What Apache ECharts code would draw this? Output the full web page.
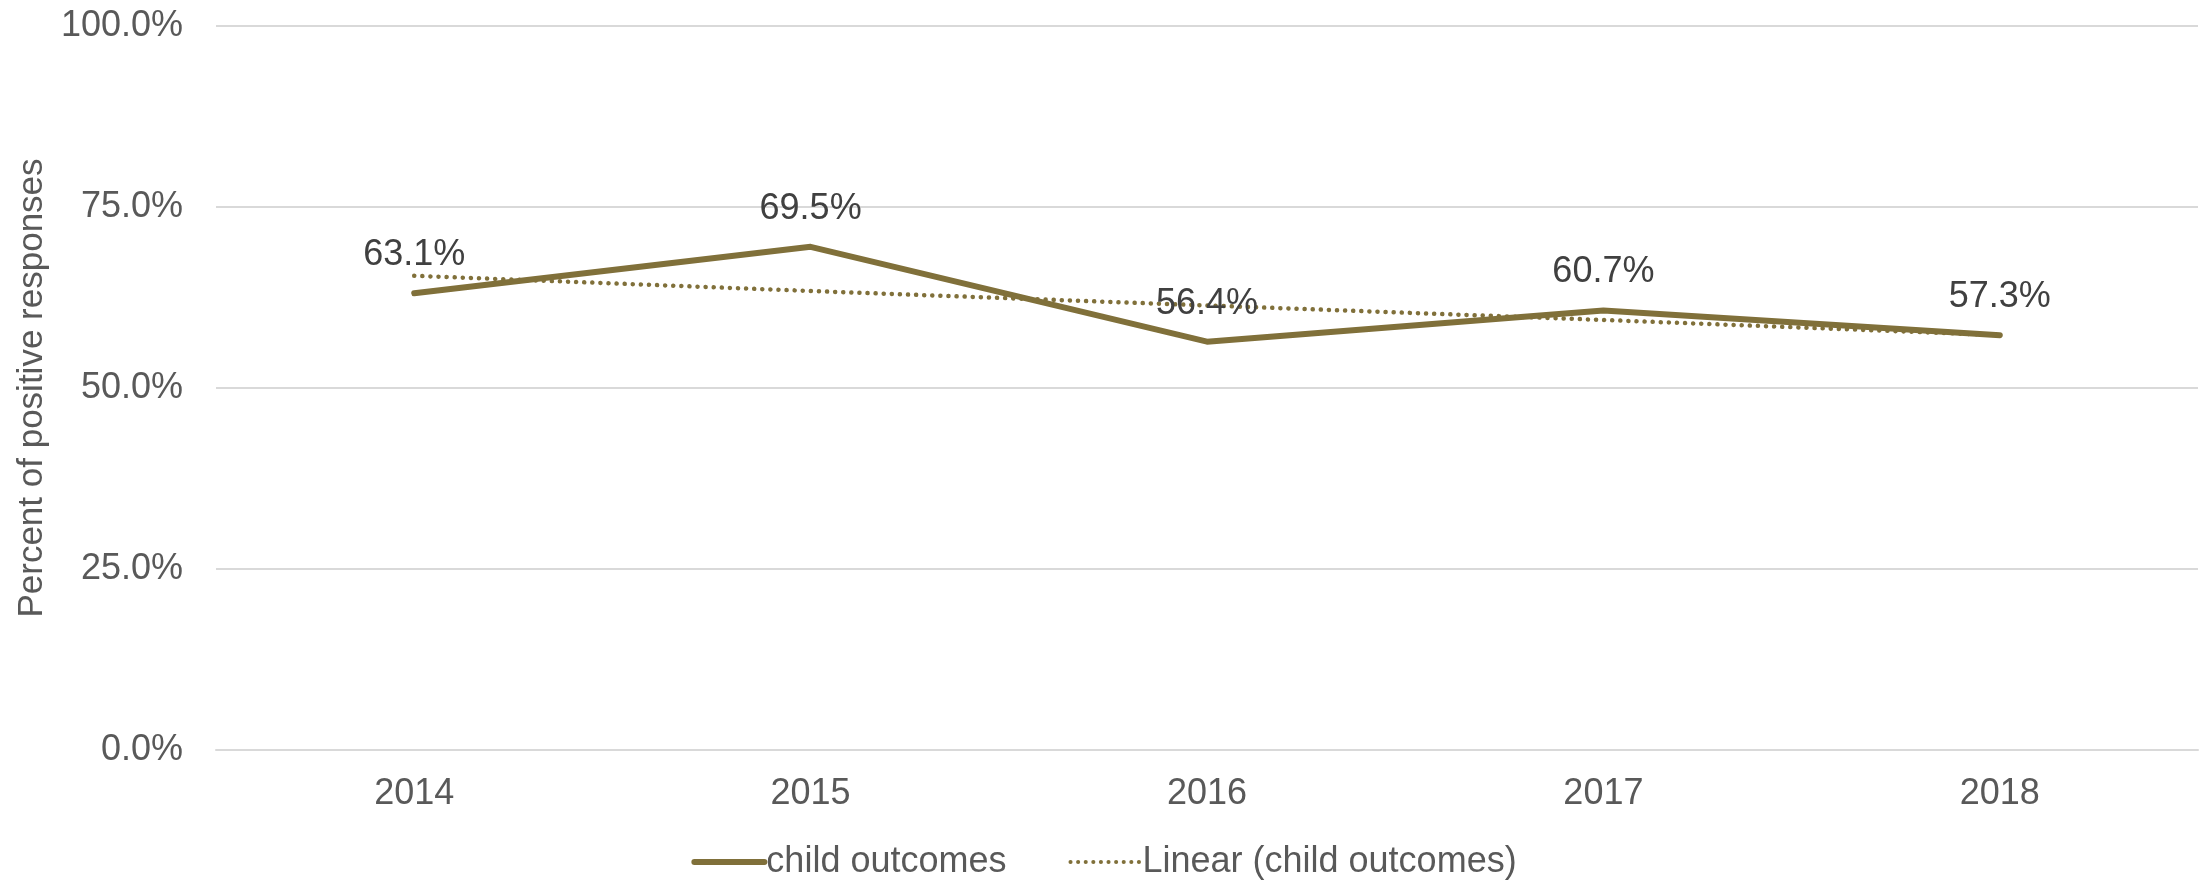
<!DOCTYPE html>
<html>
<head>
<meta charset="utf-8">
<title>Percent of positive responses</title>
<script src="https://cdn.jsdelivr.net/npm/echarts@6/dist/echarts.min.js"></script>
<style>
  html, body { margin: 0; padding: 0; background: #ffffff; }
  #chart { width: 2208px; height: 880px; }
</style>
</head>
<body>
<div id="chart"></div>
<script>
// Survey years on the category axis
const years = ['2014', '2015', '2016', '2017', '2018'];
// Share of positive responses (percent)
const childOutcomes = [63.1, 69.5, 56.4, 60.7, 57.3];
// Linear trend line of the same series (percent)
const childOutcomesTrend = [65.5, 63.4, 61.4, 59.4, 57.3];
// Value axis ticks
const yTicks = [0, 25, 50, 75, 100];

const seriesName = 'child outcomes';
const trendName = 'Linear (child outcomes)';

const FONT = '"Liberation Sans", Arial, sans-serif';
const OLIVE = '#80703A';
const GRID = '#d9d9d9';

const mainLine = { color: OLIVE, width: 6, cap: 'round', join: 'round' };
const trendLine = { color: OLIVE, width: 4.5, type: [0.1, 8], cap: 'round' };

const chart = echarts.init(document.getElementById('chart'), null, { renderer: 'canvas' });

chart.setOption({
  animation: false,
  backgroundColor: '#ffffff',
  textStyle: { fontFamily: FONT },
  grid: { left: 216, right: 10, top: 26, bottom: 130, containLabel: false },
  legend: {
    top: 839,
    left: 'center',
    itemWidth: 70,
    itemHeight: 12,
    itemGap: 62,
    // keep only the line in the legend swatch
    itemStyle: { opacity: 0 },
    textStyle: { fontFamily: FONT, fontSize: 36, color: '#595959', padding: [0, 0, 0, -3] },
    data: [
      { name: seriesName, lineStyle: { width: 6 } },
      { name: trendName, lineStyle: { width: 4, type: [0.1, 7.5], cap: 'round' } }
    ]
  },
  xAxis: {
    type: 'category',
    data: years,
    boundaryGap: true,
    axisLine: { show: true, lineStyle: { color: GRID, width: 2 } },
    axisTick: { show: false },
    axisLabel: { fontFamily: FONT, fontSize: 36, color: '#595959', margin: 26 }
  },
  yAxis: {
    type: 'value',
    min: yTicks[0],
    max: yTicks[yTicks.length - 1],
    interval: yTicks[1] - yTicks[0],
    name: 'Percent of positive responses',
    nameLocation: 'middle',
    nameRotate: 90,
    nameGap: 164,
    nameTextStyle: { fontFamily: FONT, fontSize: 35, color: '#595959' },
    axisLine: { show: false },
    axisTick: { show: false },
    splitLine: { show: true, lineStyle: { color: GRID, width: 2 } },
    axisLabel: {
      fontFamily: FONT, fontSize: 36, color: '#595959', margin: 33,
      formatter: v => v.toFixed(1) + '%'
    }
  },
  series: [
    {
      name: seriesName,
      type: 'line',
      data: childOutcomes,
      symbol: 'circle',
      symbolSize: 0,
      showSymbol: true,
      z: 3,
      lineStyle: mainLine,
      itemStyle: { color: OLIVE },
      label: {
        show: true,
        position: 'top',
        distance: 20,
        fontFamily: FONT,
        fontSize: 36,
        color: '#404040',
        formatter: p => p.value.toFixed(1) + '%'
      },
      labelLayout: { hideOverlap: false }
    },
    {
      name: trendName,
      type: 'line',
      data: childOutcomesTrend,
      symbol: 'none',
      z: 2,
      lineStyle: trendLine,
      itemStyle: { color: OLIVE }
    }
  ]
});
</script>
</body>
</html>
